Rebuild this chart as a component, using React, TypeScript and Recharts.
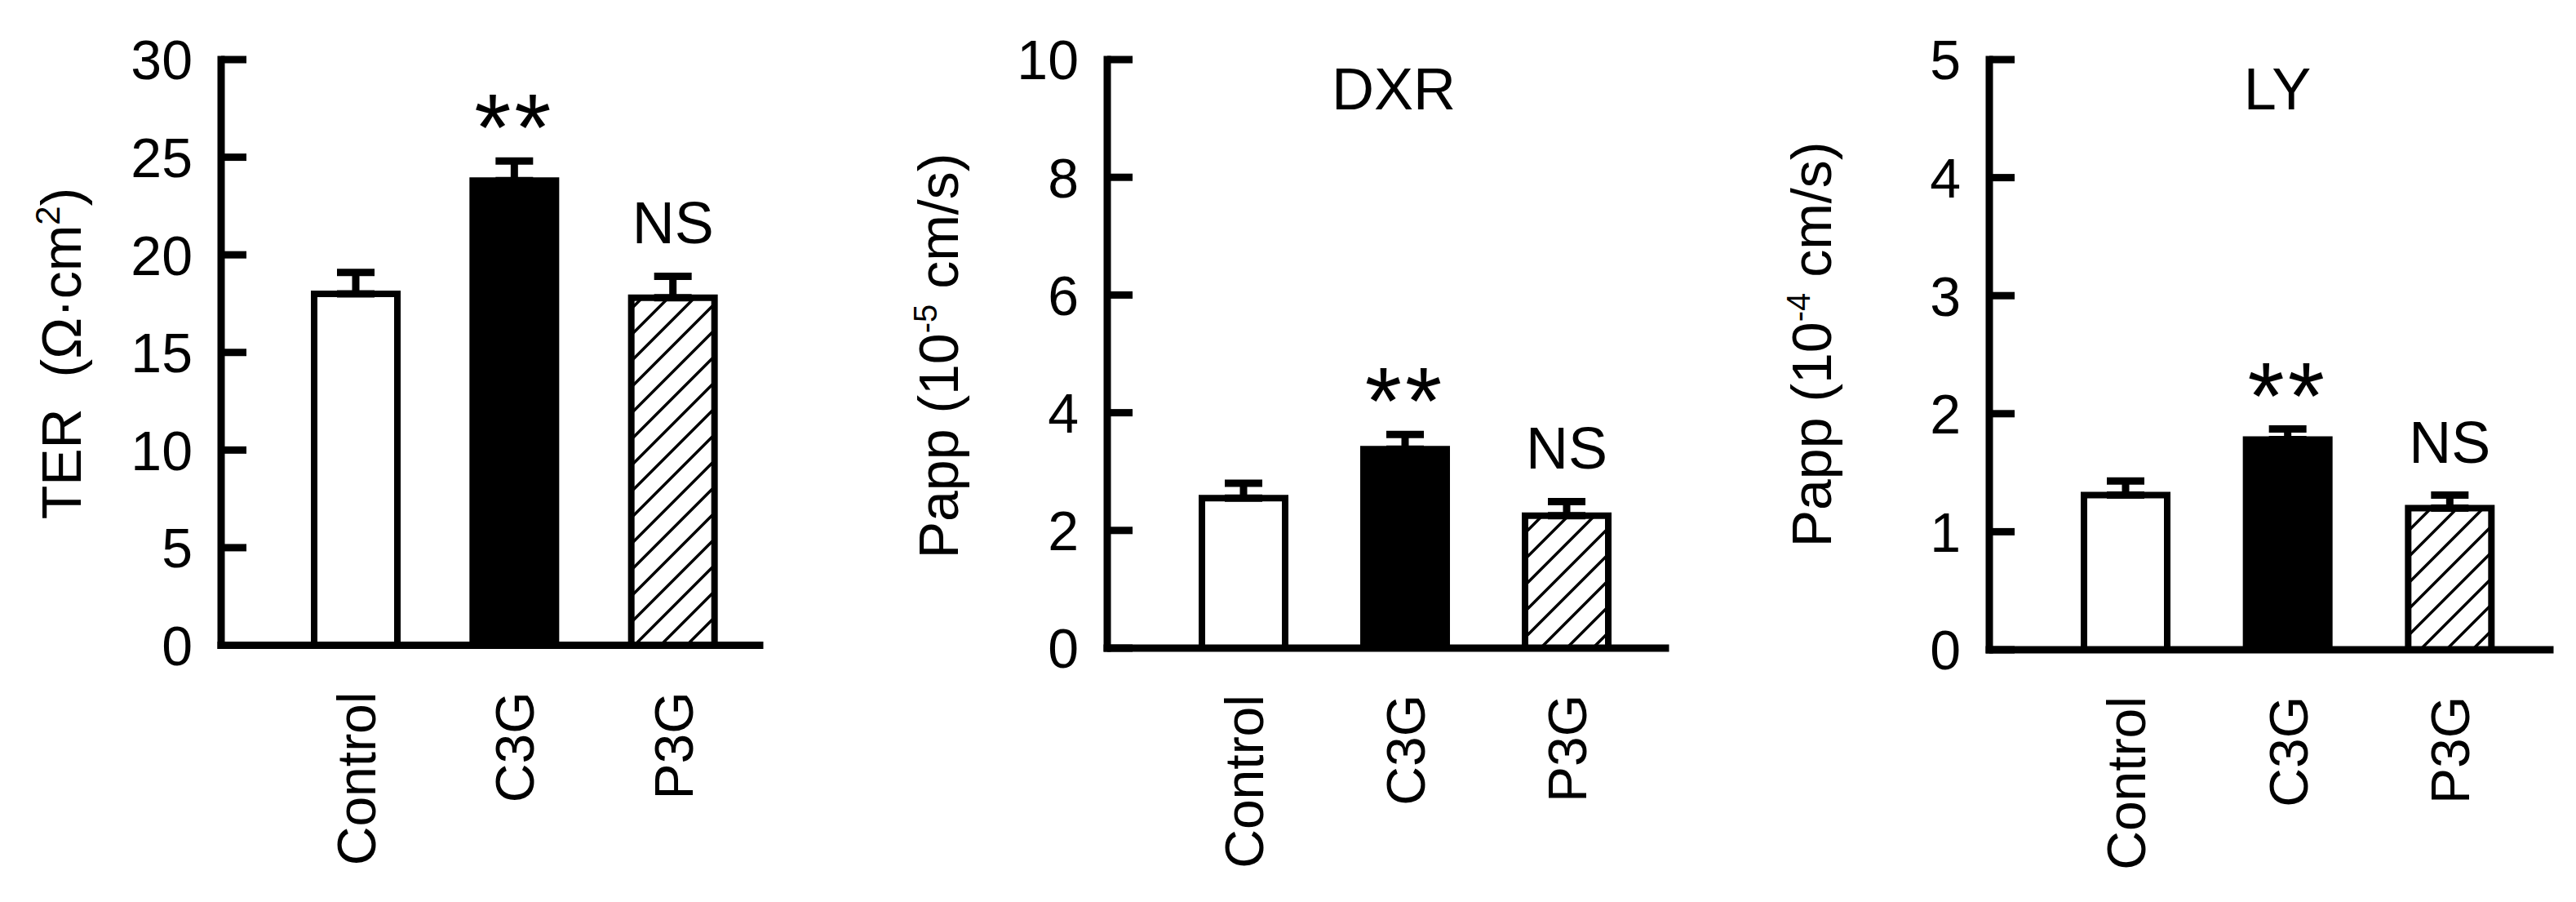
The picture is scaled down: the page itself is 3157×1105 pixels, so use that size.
import React from 'react';
import { BarChart, Bar, XAxis, YAxis, ErrorBar, Cell, LabelList } from 'recharts';

const FONT = '"Liberation Sans", Arial, sans-serif';
const H = 1105;
const TOP = 73;

// groups and significance marks
const groups = ['Control', 'C3G', 'P3G'];
const marks = ['', '**', 'NS'];

// TER (ohm.cm2)
const terMean = [18.0, 23.8, 17.8];
const terSem = [1.1, 1.0, 1.1];
const terTicks = [0, 5, 10, 15, 20, 25, 30];

// DXR Papp (10^-5 cm/s)
const dxrMean = [2.55, 3.38, 2.25];
const dxrSem = [0.25, 0.25, 0.24];
const dxrTicks = [0, 2, 4, 6, 8, 10];

// LY Papp (10^-4 cm/s)
const lyMean = [1.31, 1.78, 1.2];
const lySem = [0.12, 0.09, 0.11];
const lyTicks = [0, 1, 2, 3, 4, 5];

const makeRows = (mean, sem) =>
  groups.map((g, i) => ({ group: g, mean: mean[i], sem: sem[i], err: [0, sem[i]], mark: marks[i] }));

const YTick = (props) => {
  const { x, y, payload } = props;
  return (
    <g>
      <line x1={x} x2={x + 31} y1={y} y2={y} stroke="#000" strokeWidth={9} />
      <text x={x - 35} y={y} dy="0.36em" textAnchor="end" fontSize={68} fontFamily={FONT} fill="#000">
        {payload.value}
      </text>
    </g>
  );
};

const XTick = (props) => {
  const { x, y, payload } = props;
  const ty = y + 57;
  return (
    <text
      x={x}
      y={ty}
      dy="0.36em"
      textAnchor="end"
      transform={`rotate(-90 ${x} ${ty})`}
      fontSize={66}
      fontFamily={FONT}
      fill="#000"
    >
      {payload.value}
    </text>
  );
};

function Panel(props) {
  const { left, width, axisX, axisEnd, zeroY, padRight, ticks, rows, hatchId, titleX, titleY, yTitle, heading, headingX } = props;
  const yMax = ticks[ticks.length - 1];
  const toPx = (v) => zeroY - (v * (zeroY - TOP)) / yMax;
  const fills = ['#fff', '#000', `url(#${hatchId})`];

  const renderMark = (p) => {
    const vb = p.viewBox || p;
    const bx = p.x != null ? p.x : vb.x;
    const bw = p.width != null ? p.width : vb.width;
    const r = rows[p.index];
    if (!r || !r.mark) return null;
    const cx = bx + bw / 2;
    const capY = toPx(r.mean + r.sem);
    if (r.mark === '**') {
      return (
        <text x={cx} y={capY} textAnchor="middle" fontSize={116} fontFamily={FONT} fill="#000" letterSpacing={4}>
          **
        </text>
      );
    }
    return (
      <text x={cx} y={capY - 40} textAnchor="middle" fontSize={72} fontFamily={FONT} fill="#000">
        {r.mark}
      </text>
    );
  };

  const renderTitles = () => (
    <g>
      <text
        x={titleX - left}
        y={titleY}
        textAnchor="middle"
        transform={`rotate(-90 ${titleX - left} ${titleY})`}
        fontSize={68}
        fontFamily={FONT}
        fill="#000"
      >
        {yTitle}
      </text>
      {heading ? (
        <text x={headingX - left} y={134} textAnchor="middle" fontSize={72} fontFamily={FONT} fill="#000">
          {heading}
        </text>
      ) : null}
    </g>
  );

  return (
    <div style={{ position: 'absolute', left, top: 0 }}>
      <BarChart
        width={width}
        height={H}
        data={rows}
        margin={{ top: TOP, right: left + width - axisEnd, left: 0, bottom: 0 }}
        barCategoryGap={0}
      >
        <defs>
          <pattern id={hatchId} patternUnits="userSpaceOnUse" width={32} height={32}>
            <rect x={0} y={0} width={32} height={32} fill="#fff" />
            <path d="M0,32 L32,0 M-8,8 L8,-8 M24,40 L40,24" stroke="#000" strokeWidth={3.5} />
          </pattern>
        </defs>
        <XAxis
          dataKey="group"
          type="category"
          height={H - zeroY}
          padding={{ left: 68, right: padRight }}
          axisLine={{ stroke: '#000', strokeWidth: 9, strokeLinecap: 'square' }}
          tickLine={false}
          tickSize={0}
          tickMargin={0}
          interval={0}
          tick={<XTick />}
        />
        <YAxis
          type="number"
          domain={[0, yMax]}
          ticks={ticks}
          interval={0}
          width={axisX - left}
          axisLine={{ stroke: '#000', strokeWidth: 9, strokeLinecap: 'square' }}
          tickLine={false}
          tickSize={0}
          tickMargin={0}
          tick={<YTick />}
          label={renderTitles}
        />
        <Bar dataKey="mean" barSize={102} stroke="#000" strokeWidth={8} isAnimationActive={false}>
          {rows.map((r, i) => (
            <Cell key={r.group} fill={fills[i]} />
          ))}
          <ErrorBar dataKey="err" width={23} strokeWidth={9} stroke="#000" direction="y" isAnimationActive={false} />
          <LabelList dataKey="mark" content={renderMark} />
        </Bar>
      </BarChart>
    </div>
  );
}

export default function App() {
  return (
    <div style={{ position: 'absolute', left: 0, top: 0, width: 3157, height: H, background: '#fff', overflow: 'hidden' }}>
      <Panel
        left={0}
        width={960}
        axisX={271}
        axisEnd={931}
        zeroY={790.5}
        padRight={9}
        ticks={terTicks}
        rows={makeRows(terMean, terSem)}
        hatchId="hatchTer"
        titleX={99}
        titleY={433}
        yTitle={
          <>
            <tspan>{'TER\u00A0\u00A0(\u03A9\u00B7cm'}</tspan>
            <tspan fontSize={42} dy={-26}>2</tspan>
            <tspan dy={26}>)</tspan>
          </>
        }
      />
      <Panel
        left={1050}
        width={1020}
        axisX={1357}
        axisEnd={2041}
        zeroY={794}
        padRight={22}
        ticks={dxrTicks}
        rows={makeRows(dxrMean, dxrSem)}
        hatchId="hatchDxr"
        titleX={1174}
        titleY={436}
        heading="DXR"
        headingX={1708}
        yTitle={
          <>
            <tspan>{'Papp (10'}</tspan>
            <tspan fontSize={40} dy={-26}>-5</tspan>
            <tspan dy={26}>{'\u00A0cm/s)'}</tspan>
          </>
        }
      />
      <Panel
        left={2130}
        width={1027}
        axisX={2438}
        axisEnd={3125}
        zeroY={796}
        padRight={23}
        ticks={lyTicks}
        rows={makeRows(lyMean, lySem)}
        hatchId="hatchLy"
        titleX={2244}
        titleY={422}
        heading="LY"
        headingX={2791}
        yTitle={
          <>
            <tspan>{'Papp (10'}</tspan>
            <tspan fontSize={40} dy={-26}>-4</tspan>
            <tspan dy={26}>{'\u00A0cm/s)'}</tspan>
          </>
        }
      />
    </div>
  );
}
